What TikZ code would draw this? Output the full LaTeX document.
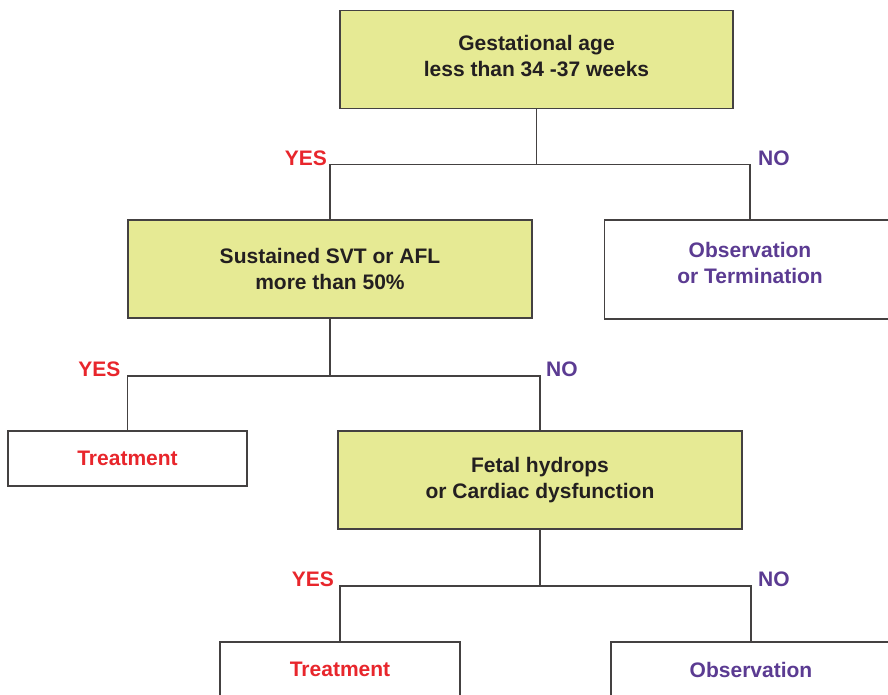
\documentclass[tikz,border=0pt]{standalone}
\usepackage{fontspec}
\setmainfont{Liberation Sans}
\usepackage{tikz}
\usetikzlibrary{positioning}
\definecolor{boxfill}{HTML}{E6EA94}
\definecolor{yesred}{HTML}{E8262C}
\definecolor{nopurple}{HTML}{5B3B92}
\definecolor{ink}{HTML}{231F20}

\begin{document}
\begin{tikzpicture}[x=1pt,y=-1pt,
    every node/.style={font=\fontsize{21}{26}\selectfont\bfseries,align=center},
    qbox/.style={draw=ink!85,line width=1.5pt,fill=boxfill,text=ink,minimum width=#1,minimum height=98pt,inner sep=0pt},
    leafbox/.style={draw=ink!85,line width=1.5pt,fill=white,minimum width=#1,minimum height=55pt,inner sep=0pt},
    wire/.style={draw=ink!85,line width=1.5pt},
    yeslbl/.style={text=yesred,inner sep=0pt,anchor=base east},
    nolbl/.style={text=nopurple,inner sep=0pt,anchor=base west}]
    \useasboundingbox (0,0) rectangle (888,694);
    \clip (0,0) rectangle (888,694);
    % questions
    \node[qbox=393pt,text depth=8pt] (gest) at (536.5,59.5) {Gestational age\\less than 34 -37 weeks};
    \node[qbox=404pt] (sust) at (330,269) {Sustained SVT or AFL\\more than 50\%};
    \node[qbox=404pt] (hydr) at (540,480) {Fetal hydrops\\or Cardiac dysfunction};
    % outcomes
    \node[leafbox=291pt,minimum height=99pt,text=nopurple,text depth=14pt] (obst) at (750,269.5) {Observation\\or Termination};
    \node[leafbox=239pt,text=yesred] (treatA) at (127.5,458.5) {Treatment};
    \node[leafbox=240pt,text=yesred] (treatB) at (340,669.5) {Treatment};
    \node[leafbox=280pt,text=nopurple] (obsB) at (751,669.5) {Observation};
    % branches
    \draw[wire] (gest.south) -- ++(0,55) coordinate (j1);
    \draw[wire] (sust.north) |- (j1) -| (obst.north);
    \draw[wire] (sust.south) -- ++(0,57) coordinate (j2);
    \draw[wire] (treatA.north) |- (j2) -| (hydr.north);
    \draw[wire] (hydr.south) -- ++(0,56) coordinate (j3);
    \draw[wire] (treatB.north) |- (j3) -| (obsB.north);
    % labels
    \node[yeslbl] (yes1) at ([xshift=-3pt,yshift=-1pt]sust.north |- j1) {YES};
    \node[nolbl] (no1) at ([xshift=8pt,yshift=-1pt]obst.north |- j1) {NO};
    \node[yeslbl] (yes2) at ([xshift=-7pt,yshift=-1pt]treatA.north |- j2) {YES};
    \node[nolbl] (no2) at ([xshift=6pt,yshift=-1pt]hydr.north |- j2) {NO};
    \node[yeslbl] (yes3) at ([xshift=-6pt,yshift=-1pt]treatB.north |- j3) {YES};
    \node[nolbl] (no3) at ([xshift=7pt,yshift=-1pt]obsB.north |- j3) {NO};
\end{tikzpicture}
\end{document}
